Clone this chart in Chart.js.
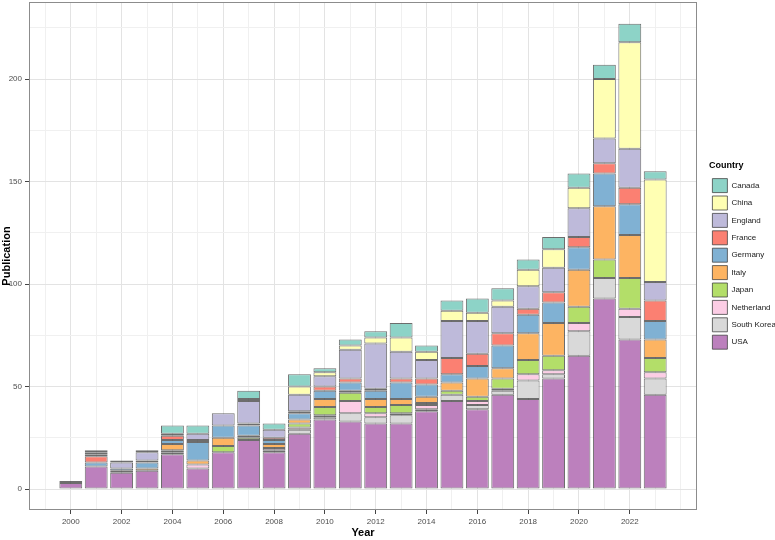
<!DOCTYPE html>
<html>
<head>
<meta charset="utf-8">
<script src="https://cdn.jsdelivr.net/npm/chart.js@4.4.1/dist/chart.umd.min.js"></script>
<style>
  html, body { margin: 0; padding: 0; background: #fff; }
  #wrap { width: 775px; height: 540px; }
</style>
</head>
<body>
<div id="wrap"><canvas id="pubChart" width="775" height="540"></canvas></div>
<script>
// Publications per year, stacked by country (bottom -> top)
const years = [2000, 2001, 2002, 2003, 2004, 2005, 2006, 2007, 2008, 2009, 2010, 2011,
               2012, 2013, 2014, 2015, 2016, 2017, 2018, 2019, 2020, 2021, 2022, 2023];
const usa        = [3, 11, 8, 9, 17, 10, 18, 24, 18, 27, 34, 33, 32, 32, 38, 43, 39, 46, 44, 54, 65, 93, 73, 46];
const southKorea = [0, 0, 0, 0, 0, 0, 0, 0, 1, 2, 1, 4, 3, 4, 1, 3, 2, 2, 9, 2, 12, 10, 11, 8];
const netherland = [0, 0, 0, 0, 1, 2, 0, 0, 1, 1, 1, 6, 2, 1, 2, 0, 2, 1, 3, 2, 4, 0, 4, 3];
const japan      = [0, 0, 0, 0, 1, 0, 3, 1, 0, 2, 4, 4, 3, 4, 1, 2, 2, 5, 7, 7, 8, 9, 15, 7];
const italy      = [0, 0, 1, 1, 3, 2, 4, 1, 2, 2, 4, 1, 4, 3, 3, 4, 9, 5, 13, 16, 18, 26, 21, 9];
const germany    = [1, 2, 1, 3, 2, 9, 6, 5, 2, 3, 4, 4, 4, 8, 6, 4, 6, 11, 9, 10, 11, 16, 15, 9];
const france     = [0, 3, 0, 1, 2, 1, 0, 1, 1, 1, 2, 2, 1, 2, 3, 8, 6, 6, 3, 5, 5, 5, 8, 10];
const england    = [0, 1, 3, 4, 1, 3, 6, 11, 4, 8, 5, 14, 22, 13, 9, 18, 16, 13, 11, 12, 14, 12, 19, 9];
const china      = [0, 1, 0, 0, 0, 0, 0, 1, 0, 4, 2, 2, 3, 7, 4, 5, 4, 3, 8, 9, 10, 29, 52, 50];
const canada     = [0, 1, 1, 1, 4, 4, 0, 4, 3, 6, 2, 3, 3, 7, 3, 5, 7, 6, 5, 6, 7, 7, 9, 4];

const yearTicks = [2000, 2002, 2004, 2006, 2008, 2010, 2012, 2014, 2016, 2018, 2020, 2022];
const pubTicks = [0, 50, 100, 150, 200];

const series = [
    ['USA', usa, '#BC80BD'],
    ['South Korea', southKorea, '#D9D9D9'],
    ['Netherland', netherland, '#FCCDE5'],
    ['Japan', japan, '#B3DE69'],
    ['Italy', italy, '#FDB462'],
    ['Germany', germany, '#80B1D3'],
    ['France', france, '#FB8072'],
    ['England', england, '#BEBADA'],
    ['China', china, '#FFFFB3'],
    ['Canada', canada, '#8DD3C7']
];

Chart.defaults.font.family = '"Liberation Sans", Arial, sans-serif';

// grid lines: labelled breaks plus the minor ones half way between
const xGrid = [];
for (let y = yearTicks[0] - 1; y <= yearTicks[yearTicks.length - 1] + 2; y++) xGrid.push(y);
const yGrid = pubTicks.flatMap(v => [v, v + 25]);

// grey frame round the plotting panel
const panelBorder = {
    id: 'panelBorder',
    afterDatasetsDraw(chart) {
        const a = chart.chartArea;
        const ctx = chart.ctx;
        ctx.save();
        ctx.strokeStyle = '#8c8c8c';
        ctx.lineWidth = 1;
        ctx.strokeRect(a.left + 0.5, a.top + 0.5, a.right - a.left - 1, a.bottom - a.top - 1);
        ctx.restore();
    }
};

const data = {
    labels: years,
    datasets: series.map(([name, values, color]) => ({
        label: name,
        data: values.map(v => v || null),
        backgroundColor: color,
        borderColor: 'rgba(60,60,60,0.75)',
        borderWidth: 1,
        borderSkipped: false,
        categoryPercentage: 0.9,
        barPercentage: 1
    }))
};

const isYearMajor = v => yearTicks.includes(v);
const isPubMajor = v => pubTicks.includes(v);
const gridColor = (major) => (ctx) => (ctx.tick && major(ctx.tick.value)) ? '#e3e3e3' : '#f0f0f0';
const tickColor = (major) => (ctx) => (ctx.tick && major(ctx.tick.value)) ? '#444' : 'rgba(0,0,0,0)';

new Chart(document.getElementById('pubChart'), {
    type: 'bar',
    data: data,
    options: {
        responsive: false,
        animation: false,
        devicePixelRatio: 1,
        layout: { padding: { top: 2, right: 0, bottom: 0, left: 0 } },
        plugins: {
            tooltip: { enabled: false },
            legend: {
                position: 'right',
                fullSize: false,
                reverse: true,
                maxWidth: 66,
                title: {
                    display: true,
                    text: 'Country',
                    position: 'start',
                    color: '#000',
                    padding: { top: 2, bottom: 3 },
                    font: { size: 9, weight: 'bold' }
                },
                labels: {
                    boxWidth: 15,
                    boxHeight: 14,
                    padding: 3.4,
                    color: '#1a1a1a',
                    font: { size: 8 }
                }
            }
        },
        scales: {
            x: {
                type: 'linear',
                stacked: true,
                offset: false,
                min: 1998.355,
                max: 2024.645,
                afterBuildTicks(scale) { scale.ticks = xGrid.map(v => ({ value: v })); },
                afterFit(scale) {
                    scale.height = 30;
                    scale.paddingLeft = 0;
                    scale.paddingRight = 0;
                },
                border: { display: false, color: '#8c8c8c' },
                grid: {
                    offset: false,
                    color: gridColor(isYearMajor),
                    tickColor: tickColor(isYearMajor),
                    tickLength: 4
                },
                ticks: {
                    autoSkip: false,
                    maxRotation: 0,
                    padding: 3,
                    color: '#4d4d4d',
                    font: { size: 8 },
                    callback: v => yearTicks.includes(v) ? String(v) : ''
                },
                title: {
                    display: true,
                    text: 'Year',
                    color: '#000',
                    padding: { top: 0, bottom: 0 },
                    font: { size: 11, weight: 'bold' }
                }
            },
            y: {
                stacked: true,
                min: -10.2,
                max: 237.6,
                afterBuildTicks(scale) { scale.ticks = yGrid.map(v => ({ value: v })); },
                afterFit(scale) {
                    scale.width = 29;
                    scale.paddingTop = 0;
                    scale.paddingBottom = 0;
                },
                border: { display: false, color: '#8c8c8c' },
                grid: {
                    color: gridColor(isPubMajor),
                    tickColor: tickColor(isPubMajor),
                    tickLength: 4
                },
                ticks: {
                    autoSkip: false,
                    padding: 3,
                    color: '#4d4d4d',
                    font: { size: 8 },
                    callback: v => pubTicks.includes(v) ? String(v) : ''
                },
                title: {
                    display: true,
                    text: 'Publication',
                    color: '#000',
                    padding: { top: 0, bottom: 0 },
                    font: { size: 11, weight: 'bold' }
                }
            },
            // empty right-hand axis: keeps a gap between panel and legend
            gap: {
                type: 'linear',
                position: 'right',
                display: true,
                afterFit(scale) { scale.width = 12; },
                grid: { display: false },
                border: { display: false },
                ticks: { display: false }
            }
        }
    },
    plugins: [panelBorder]
});
</script>
</body>
</html>
